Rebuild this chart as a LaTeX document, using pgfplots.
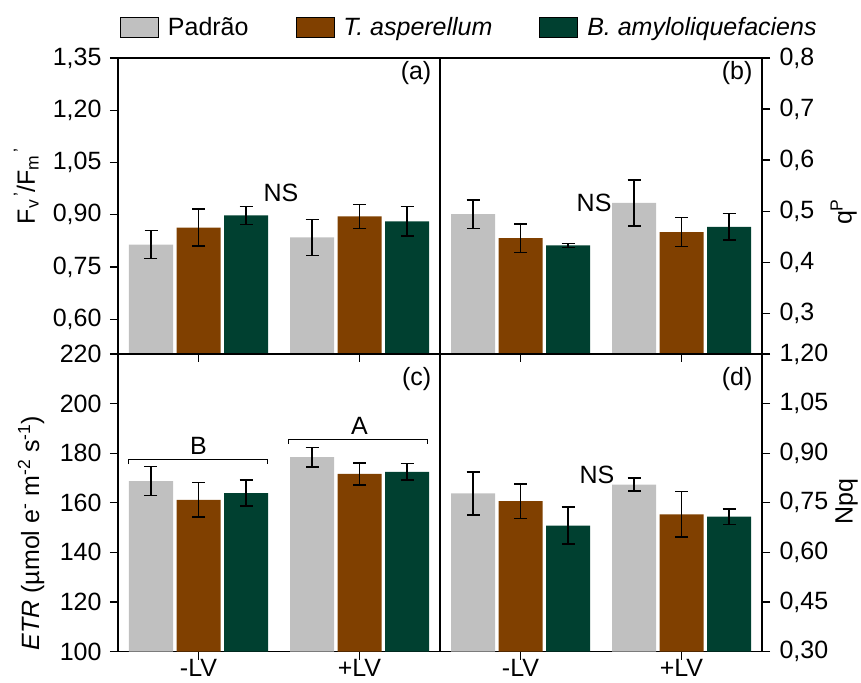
\documentclass[border=0pt]{standalone}
\usepackage{pgfplots}
\usepackage{pgfplotstable}
\pgfplotsset{compat=1.18}
\usepackage{fontspec}
\setmainfont{Liberation Sans}
\definecolor{cgray}{RGB}{192,192,192}
\definecolor{cbrown}{RGB}{128,64,0}
\definecolor{cgreen}{RGB}{0,64,48}

\pgfplotstableread{
x P Pe T Te B Be
0 0.814 0.040 0.863 0.053 0.898 0.026
1 0.835 0.052 0.895 0.034 0.881 0.042
}\tabA
\pgfplotstableread{
x P Pe T Te B Be
0 0.494 0.028 0.447 0.028 0.433 0.004
1 0.516 0.045 0.459 0.028 0.469 0.026
}\tabB
\pgfplotstableread{
x P Pe T Te B Be
0 168.7 5.8 161.2 7.0 163.9 5.2
1 178.4 4.0 171.6 4.5 172.5 3.3
}\tabC
\pgfplotstableread{
x P Pe T Te B Be
0 0.778 0.065 0.755 0.052 0.681 0.056
1 0.805 0.020 0.715 0.069 0.708 0.023
}\tabD

\newcommand{\fs}{\fontsize{25}{29}\selectfont}

\pgfplotsset{
 panel/.style={
  scale only axis, width=322pt,
  xmin=-0.5, xmax=1.5, xtick={0,1},
  ybar=3.5pt, bar width=44pt,
  tick align=outside, major tick length=8pt,
  xtick pos=bottom,
  axis line style={line width=1.2pt},
  tick style={black, line width=1.2pt},
  tick label style={font=\fs},
  xticklabel style={yshift=4pt},
  label style={font=\fs},
  /pgf/number format/assume math mode=true,
  /pgf/number format/use comma,
  clip=false,
  every axis plot/.append style={draw=none},
  error bars/y dir=both, error bars/y explicit,
  error bars/error bar style={line width=1.4pt, draw=black, solid},
  error bars/error mark options={rotate=90, mark size=6.5pt, line width=1.4pt, draw=black, solid},
 },
 leftp/.style={ytick pos=left, yticklabel style={xshift=-5pt}},
 rightp/.style={ytick pos=right, yticklabel pos=right, yticklabel style={xshift=6pt}},
}

\begin{document}
\begin{tikzpicture}
\useasboundingbox (0,0) rectangle (861pt,682pt);

% (a)
\begin{axis}[panel, leftp, at={(118pt,328pt)}, anchor=south west, height=296pt,
  ymin=0.5, ymax=1.35, ytick={0.6,0.75,0.9,1.05,1.2,1.35},
  xticklabels={},
  yticklabel style={/pgf/number format/.cd, fixed, fixed zerofill, precision=2},
  ylabel={F\textsubscript{v}\textsuperscript{\,'}/F\textsubscript{m}\textsuperscript{\,'}},
  ylabel style={at={(axis description cs:-0.285,0.568)}, anchor=center, rotate=0},
  legend columns=3,
  legend style={at={(axis description cs:0.006,1.105)}, anchor=west, draw=none, fill=none,
    inner sep=0pt, font=\fs,
    /tikz/every odd column/.append style={column sep=7pt},
    /tikz/every even column/.append style={column sep=45pt}},
  every axis plot/.append style={legend image code/.code={\draw[#1, draw=black, line width=0.8pt] (0pt,-10pt) rectangle (38pt,10pt);}},
]
\addplot[fill=cgray] table[x=x, y=P, y error=Pe] \tabA;
\addplot[fill=cbrown] table[x=x, y=T, y error=Te] \tabA;
\addplot[fill=cgreen] table[x=x, y=B, y error=Be] \tabA;
\legend{Padrão, \textit{T. asperellum}, \textit{B. amyloliquefaciens}}
\node[font=\fs, anchor=east] at (axis description cs:0.984,0.949) {(a)};
\node[font=\fs] at (axis cs:0.512,0.964) {NS};
\end{axis}

% (b)
\begin{axis}[panel, rightp, at={(440pt,328pt)}, anchor=south west, height=296pt,
  ymin=0.22, ymax=0.8, ytick={0.3,0.4,0.5,0.6,0.7,0.8},
  xticklabels={},
  yticklabel style={/pgf/number format/.cd, fixed, fixed zerofill, precision=1},
  ylabel={q\textsuperscript{P}},
  ylabel style={at={(axis description cs:1.254,0.48)}, anchor=center, rotate=0},
]
\addplot[fill=cgray] table[x=x, y=P, y error=Pe] \tabB;
\addplot[fill=cbrown] table[x=x, y=T, y error=Te] \tabB;
\addplot[fill=cgreen] table[x=x, y=B, y error=Be] \tabB;
\node[font=\fs, anchor=east] at (axis description cs:0.981,0.949) {(b)};
\node[font=\fs] at (axis cs:0.457,0.516) {NS};
\end{axis}

% (c)
\begin{axis}[panel, leftp, at={(118pt,30.5pt)}, anchor=south west, height=297.5pt,
  ymin=100, ymax=220, ytick={100,120,140,160,180,200,220},
  xticklabels={-LV,+LV},
  yticklabel style={/pgf/number format/.cd, fixed, precision=0},
  ylabel={\textit{ETR} (µmol e\textsuperscript{-} m\textsuperscript{-2} s\textsuperscript{-1})},
  ylabel style={at={(axis description cs:-0.27,0.398)}, anchor=center, rotate=0},
]
\addplot[fill=cgray] table[x=x, y=P, y error=Pe] \tabC;
\addplot[fill=cbrown] table[x=x, y=T, y error=Te] \tabC;
\addplot[fill=cgreen] table[x=x, y=B, y error=Be] \tabC;
\node[font=\fs, anchor=east] at (axis description cs:0.984,0.915) {(c)};
\draw[line width=1.2pt] (axis cs:-0.437,175.6) |- (axis cs:0.43,177.3) -- (axis cs:0.43,175.6);
\draw[line width=1.2pt] (axis cs:0.557,183.7) |- (axis cs:1.42,185.4) -- (axis cs:1.42,183.7);
\node[font=\fs] at (axis cs:0,182.8) {B};
\node[font=\fs] at (axis cs:1,190.9) {A};
\end{axis}

% (d)
\begin{axis}[panel, rightp, at={(440pt,30.5pt)}, anchor=south west, height=297.5pt,
  ymin=0.3, ymax=1.2, ytick={0.3,0.45,0.6,0.75,0.9,1.05,1.2},
  xticklabels={-LV,+LV},
  yticklabel style={/pgf/number format/.cd, fixed, fixed zerofill, precision=2},
  ylabel={Npq},
  ylabel style={at={(axis description cs:1.263,0.5025)}, anchor=center, rotate=0},
]
\addplot[fill=cgray] table[x=x, y=P, y error=Pe] \tabD;
\addplot[fill=cbrown] table[x=x, y=T, y error=Te] \tabD;
\addplot[fill=cgreen] table[x=x, y=B, y error=Be] \tabD;
\node[font=\fs, anchor=east] at (axis description cs:0.981,0.915) {(d)};
\node[font=\fs] at (axis cs:0.475,0.833) {NS};
\end{axis}
\end{tikzpicture}
\end{document}
